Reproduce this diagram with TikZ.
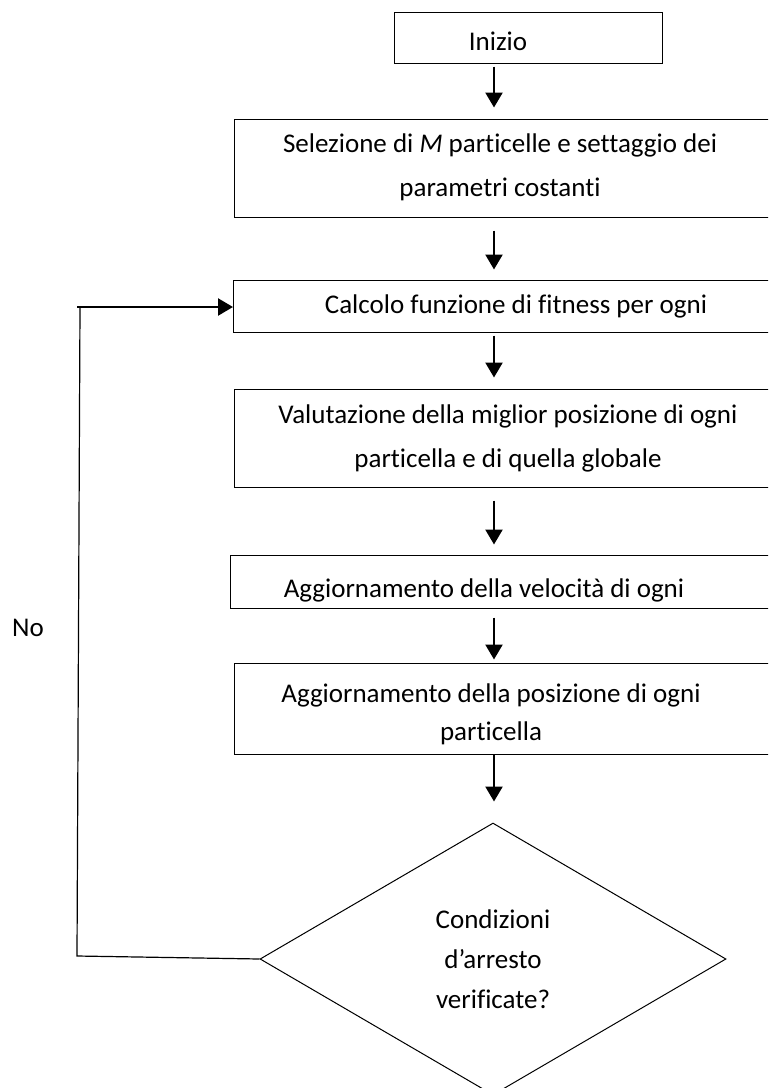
\documentclass[tikz,border=0pt]{standalone}
\usepackage{fontspec}
\setmainfont{Carlito}[Ligatures=NoCommon]
\usetikzlibrary{shapes.geometric,arrows.meta}

\begin{document}
\begin{tikzpicture}[
    x=0.5pt, y=-0.5pt,
    box/.style={rectangle, draw, line width=0.5pt, minimum width=269pt, inner sep=0pt},
    txt/.style={align=center, font=\fontsize{13.5}{22}\selectfont, inner sep=0pt},
    arr/.style={-{Triangle[length=7.5pt,width=8.5pt]}, line width=1.2pt}
]
\useasboundingbox (0,0) rectangle (768,1088);
\clip (0,0) rectangle (768,1088);

% Start
\node[box, minimum width=134pt, minimum height=25.5pt] (b1) at (528,37.5) {};
\node[txt] (t1) at (498,41) {Inizio};

% Initialisation
\node[box, minimum height=49pt] (b2) at (503,168) {};
\node[txt] (t2) at (500,167) {Selezione di \textit{M} particelle e settaggio dei\\parametri costanti};

% Loop body
\node[box, minimum height=26pt] (b3) at (502.5,306) {};
\node[txt] (t3) at (516,306) {Calcolo funzione di fitness per ogni};

\node[box, minimum height=49pt] (b4) at (503,438) {};
\node[txt] (t4) at (508,438) {Valutazione della miglior posizione di ogni\\particella e di quella globale};

\node[box, minimum width=271pt, minimum height=26.5pt] (b5) at (501,581.5) {};
\node[txt] (t5) at (484,590) {Aggiornamento della velocità di ogni};

\node[box, minimum height=45.5pt] (b6) at (503,708.5) {};
\node[txt, font=\fontsize{13.5}{19}\selectfont] (t6) at (491,714) {Aggiornamento della posizione di ogni\\particella};

% Stop test
\node[diamond, draw, line width=0.5pt, minimum width=233pt, minimum height=136pt, inner sep=0pt,
      align=center, font=\fontsize{13.5}{20}\selectfont] (dia) at (493,959) {Condizioni\\d’arresto\\verificate?};

\node[txt] (no) at (28,628) {No};

% Arrows down the column
\coordinate (ax) at (494,0);
\draw[arr, shorten <=1.5pt, shorten >=5.5pt] (b1.south -| ax) -- (b2.north -| ax);
\draw[arr, shorten <=6.5pt, shorten >=5pt] (b2.south -| ax) -- (b3.north -| ax);
\draw[arr, shorten <=1.5pt, shorten >=5.5pt] (b3.south -| ax) -- (b4.north -| ax);
\draw[arr, shorten <=6.5pt, shorten >=5pt] (b4.south -| ax) -- (b5.north -| ax);
\draw[arr, shorten <=4.5pt, shorten >=1.5pt] (b5.south -| ax) -- (b6.north -| ax);
\draw[arr, shorten >=10.5pt] (b6.south -| ax) -- (dia.north -| ax);

% Feedback (No)
\coordinate (fbA) at (77,956);
\coordinate (fbB) at (80,307);
\coordinate (fbC) at (77,307);
\draw[line width=0.6pt] (dia.west) -- (fbA) -- (fbB);
\draw[arr] (fbC) -- (fbC -| b3.west);

\end{tikzpicture}
\end{document}
